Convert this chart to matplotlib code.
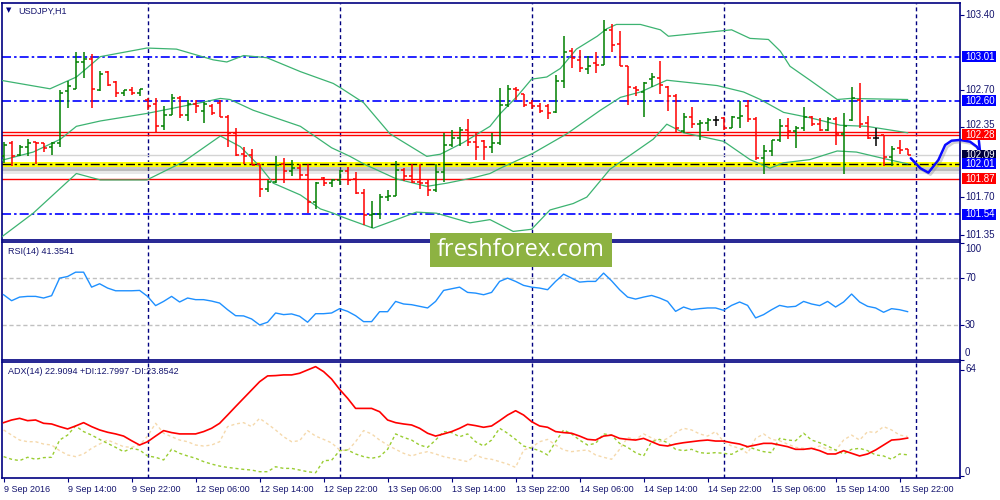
import numpy as np
import matplotlib.pyplot as plt
import matplotlib.patheffects as pe
import matplotlib.transforms as mtransforms
from matplotlib.patches import Rectangle

plt.rcParams['font.family'] = ['Liberation Sans', 'DejaVu Sans']
plt.rcParams['lines.scale_dashes'] = False

# USDJPY H1, bars from 9 Sep 06:00 to 15 Sep 23:00
opens = [102.08, 102.20, 102.09, 102.17, 102.21, 102.20, 102.17, 102.20, 102.69, 102.71,
         102.96, 102.99, 102.70, 102.87, 102.77, 102.67, 102.70, 102.67, 102.61, 102.57,
         102.36, 102.47, 102.62, 102.47, 102.57, 102.50, 102.55, 102.58, 102.45, 102.30,
         102.10, 102.09, 102.01, 101.78, 101.84, 102.01, 101.94, 101.97, 101.91, 101.65,
         101.88, 101.83, 101.86, 101.94, 101.87, 101.74, 101.53, 101.54, 101.70, 101.71,
         101.95, 101.90, 101.84, 101.83, 101.77, 101.93, 102.19, 102.25, 102.33, 102.21,
         102.22, 102.17, 102.20, 102.56, 102.71, 102.66, 102.58, 102.55, 102.55, 102.49,
         102.78, 103.06, 102.98, 102.89, 102.95, 102.93, 103.26, 103.13, 102.92, 102.72,
         102.68, 102.80, 102.81, 102.73, 102.64, 102.32, 102.45, 102.38, 102.39, 102.42,
         102.44, 102.34, 102.44, 102.55, 102.43, 102.06, 102.13, 102.23, 102.36, 102.32,
         102.34, 102.45, 102.38, 102.33, 102.43, 102.29, 102.42, 102.61, 102.39, 102.25,
         102.28, 102.07, 102.16, 102.15]
highs = [102.21, 102.22, 102.19, 102.24, 102.21, 102.20, 102.21, 102.70, 102.78, 103.05,
         103.05, 103.03, 102.88, 102.88, 102.78, 102.70, 102.73, 102.71, 102.62, 102.62,
         102.55, 102.66, 102.64, 102.61, 102.61, 102.59, 102.57, 102.61, 102.47, 102.34,
         102.17, 102.15, 102.01, 101.86, 102.08, 102.06, 102.05, 102.01, 102.01, 101.84,
         101.89, 101.87, 101.95, 101.98, 101.93, 101.78, 101.66, 101.73, 101.77, 102.04,
         101.97, 102.01, 102.01, 101.87, 102.01, 102.30, 102.33, 102.35, 102.43, 102.31,
         102.23, 102.30, 102.72, 102.75, 102.73, 102.66, 102.61, 102.58, 102.57, 102.84,
         103.20, 103.09, 103.07, 103.02, 103.05, 103.35, 103.31, 103.25, 102.92, 102.74,
         102.77, 102.86, 102.97, 102.74, 102.66, 102.48, 102.54, 102.42, 102.44, 102.46,
         102.45, 102.46, 102.60, 102.61, 102.45, 102.19, 102.23, 102.43, 102.44, 102.36,
         102.54, 102.46, 102.44, 102.45, 102.45, 102.48, 102.73, 102.76, 102.46, 102.34,
         102.28, 102.18, 102.23, 102.15]
lows = [102.02, 101.99, 102.08, 102.08, 102.01, 102.12, 102.09, 102.17, 102.53, 102.71,
        102.81, 102.53, 102.69, 102.74, 102.63, 102.64, 102.65, 102.64, 102.51, 102.31,
        102.33, 102.47, 102.44, 102.41, 102.48, 102.39, 102.47, 102.45, 102.17, 102.08,
        102.01, 102.00, 101.70, 101.75, 101.83, 101.83, 101.90, 101.86, 101.55, 101.59,
        101.80, 101.79, 101.81, 101.81, 101.73, 101.44, 101.41, 101.50, 101.66, 101.71,
        101.85, 101.83, 101.78, 101.71, 101.75, 101.84, 102.17, 102.18, 102.18, 102.05,
        102.05, 102.11, 102.19, 102.54, 102.61, 102.54, 102.52, 102.48, 102.43, 102.48,
        102.72, 102.90, 102.87, 102.85, 102.86, 102.93, 103.05, 102.92, 102.56, 102.64,
        102.45, 102.73, 102.66, 102.50, 102.30, 102.30, 102.34, 102.23, 102.32, 102.36,
        102.33, 102.34, 102.34, 102.40, 102.05, 101.92, 102.08, 102.21, 102.24, 102.16,
        102.32, 102.36, 102.32, 102.32, 102.19, 101.92, 102.41, 102.34, 102.24, 102.18,
        101.99, 101.99, 102.10, 102.09]
closes = [102.19, 102.08, 102.17, 102.20, 102.20, 102.16, 102.20, 102.67, 102.74, 102.96,
          102.99, 102.71, 102.85, 102.75, 102.67, 102.70, 102.67, 102.71, 102.55, 102.36,
          102.47, 102.62, 102.47, 102.57, 102.55, 102.57, 102.48, 102.45, 102.30, 102.09,
          102.08, 102.00, 101.78, 101.84, 102.00, 101.94, 101.97, 101.91, 101.65, 101.83,
          101.83, 101.86, 101.94, 101.86, 101.74, 101.53, 101.54, 101.70, 101.71, 101.95,
          101.90, 101.84, 101.83, 101.77, 101.93, 102.19, 102.25, 102.33, 102.21, 102.17,
          102.17, 102.20, 102.56, 102.71, 102.70, 102.56, 102.55, 102.50, 102.48, 102.78,
          103.05, 103.00, 102.90, 102.92, 102.93, 103.26, 103.12, 102.92, 102.73, 102.70,
          102.76, 102.82, 102.75, 102.64, 102.34, 102.45, 102.38, 102.39, 102.42, 102.42,
          102.34, 102.45, 102.46, 102.43, 102.06, 102.13, 102.23, 102.36, 102.32, 102.34,
          102.45, 102.38, 102.33, 102.43, 102.29, 102.36, 102.62, 102.38, 102.25, 102.25,
          102.07, 102.15, 102.14, 102.09]

# Bollinger bands, read at a set of bar positions
upper_x = [-0.4, 5.8, 9.1, 12.1, 17.9, 21.6, 26.2, 27.9, 30.0, 32.9, 37.1, 41.2, 42.1, 45.0,
           48.3, 52.9, 54.6, 57.5, 60.8, 62.1, 64.2, 66.0, 67.9, 69.6, 71.6, 74.2, 75.4, 76.6,
           79.6, 82.1, 83.1, 87.1, 91.0, 93.3, 95.6, 97.1, 98.3, 100.8, 102.5, 104.2, 105.8, 113.0]
upper_y = [102.79, 102.71, 102.82, 103.01, 103.09, 103.08, 102.98, 102.96, 103.02, 103.00,
           102.87, 102.76, 102.72, 102.58, 102.29, 102.08, 102.10, 102.21, 102.36, 102.48,
           102.64, 102.80, 102.82, 102.90, 103.08, 103.20, 103.27, 103.31, 103.31, 103.26,
           103.20, 103.23, 103.26, 103.18, 103.17, 103.06, 102.92, 102.79, 102.70, 102.61,
           102.62, 102.61]
mid_x = [-0.4, 3.7, 7.1, 9.1, 12.1, 17.9, 24.6, 27.1, 28.3, 31.2, 37.1, 41.0, 43.3, 45.0,
         49.1, 52.9, 55.4, 58.7, 60.8, 62.1, 66.2, 70.4, 74.6, 77.1, 79.6, 82.9, 89.2, 92.5,
         94.6, 97.5, 100.8, 104.6, 107.9, 113.0]
mid_y = [102.04, 102.12, 102.24, 102.36, 102.41, 102.48, 102.58, 102.62, 102.61, 102.51,
         102.36, 102.16, 102.08, 102.01, 101.87, 101.80, 101.83, 101.88, 101.92, 101.97,
         102.11, 102.29, 102.51, 102.63, 102.68, 102.79, 102.74, 102.68, 102.61, 102.49,
         102.44, 102.37, 102.36, 102.30]
low_x = [-0.4, 3.7, 9.1, 12.1, 17.9, 22.5, 27.1, 29.6, 32.1, 33.7, 37.1, 39.6, 41.2, 42.5,
         46.2, 49.1, 51.6, 54.1, 58.3, 60.8, 63.7, 66.0, 68.3, 71.2, 72.9, 75.8, 78.7, 81.2,
         82.9, 85.0, 90.0, 93.3, 95.8, 97.5, 100.8, 104.2, 106.6, 110.0, 113.0]
low_y = [101.32, 101.55, 101.92, 101.86, 101.86, 102.03, 102.27, 102.17, 101.98, 101.83,
         101.72, 101.59, 101.55, 101.51, 101.41, 101.49, 101.56, 101.55, 101.46, 101.49,
         101.38, 101.40, 101.58, 101.64, 101.70, 101.96, 102.11, 102.24, 102.38, 102.30,
         102.22, 102.05, 101.97, 102.02, 102.05, 102.13, 102.12, 102.06, 102.01]

rsi = [55.8, 50.7, 53.8, 54.4, 54.4, 53.0, 55.0, 70.0, 71.4, 75.1,
       75.1, 62.3, 65.2, 61.5, 59.2, 59.2, 59.2, 59.5, 54.4, 46.5,
       50.1, 54.4, 49.6, 53.0, 51.6, 51.6, 50.4, 48.7, 43.0, 37.9,
       37.7, 35.1, 30.0, 32.3, 40.2, 38.8, 39.4, 37.4, 32.3, 39.6,
       39.6, 40.2, 43.9, 41.6, 37.9, 32.8, 32.8, 41.3, 41.3, 50.1,
       47.9, 47.3, 45.9, 44.5, 50.1, 59.5, 60.9, 62.3, 57.8, 57.2,
       55.8, 57.8, 67.2, 70.0, 67.2, 63.8, 62.3, 61.5, 60.1, 67.2,
       73.4, 70.0, 66.6, 67.2, 67.2, 74.3, 67.7, 60.1, 53.8, 52.1,
       53.8, 55.2, 53.0, 50.1, 41.6, 45.3, 43.0, 43.9, 44.5, 44.5,
       42.5, 46.7, 49.6, 46.7, 36.0, 38.8, 43.0, 46.7, 45.3, 45.9,
       50.1, 47.9, 46.5, 50.1, 45.3, 49.6, 56.4, 49.6, 45.9, 44.5,
       40.8, 43.9, 43.0, 41.35]
adx = [32.2, 33.8, 34.8, 33.4, 33.8, 31.8, 31.4, 29.8, 28.4, 30.2,
       32.2, 29.8, 27.8, 26.4, 25.4, 24.1, 21.3, 18.7, 20.7, 24.1,
       27.4, 26.2, 25.4, 25.4, 25.4, 26.8, 28.8, 31.8, 36.8, 41.9,
       46.9, 51.9, 56.9, 60.4, 60.6, 61.0, 61.0, 62.0, 64.0, 66.0,
       63.0, 58.5, 52.3, 46.9, 40.8, 40.8, 40.8, 38.8, 33.8, 32.2,
       31.4, 30.8, 28.8, 25.8, 24.1, 25.4, 26.8, 28.8, 31.2, 30.4,
       29.4, 30.2, 33.4, 36.8, 39.4, 36.8, 32.8, 30.2, 29.4, 26.8,
       26.2, 25.8, 24.1, 22.1, 21.7, 24.1, 24.7, 22.7, 22.1, 21.7,
       22.7, 20.7, 18.7, 18.1, 19.3, 20.1, 20.7, 21.3, 21.7, 21.1,
       21.1, 20.1, 19.3, 17.7, 18.7, 19.7, 19.7, 18.7, 17.7, 16.1,
       16.1, 16.7, 15.3, 13.3, 13.3, 15.3, 13.7, 12.1, 13.3, 15.7,
       18.7, 21.7, 22.1, 22.9]
di_plus = [11.7, 10.1, 9.3, 11.3, 10.1, 11.1, 11.3, 21.7, 24.7, 30.2,
           26.8, 24.7, 22.1, 19.7, 17.3, 14.7, 16.7, 15.7, 12.1, 11.3,
           9.7, 16.1, 13.7, 12.1, 10.7, 8.7, 7.2, 6.0, 5.2, 4.6,
           4.0, 3.6, 2.6, 2.6, 5.6, 4.6, 4.6, 3.6, 2.6, 2.0,
           9.3, 9.5, 15.3, 15.7, 13.3, 11.7, 10.7, 11.7, 16.1, 25.4,
           23.3, 21.7, 18.7, 17.3, 21.7, 26.8, 26.2, 23.7, 25.4, 20.7,
           18.1, 21.7, 28.8, 25.8, 22.1, 18.1, 16.7, 15.3, 12.7, 20.7,
           27.8, 25.4, 21.7, 18.7, 19.7, 25.4, 24.7, 19.7, 17.3, 14.1,
           12.1, 20.7, 22.1, 20.1, 16.1, 15.3, 16.1, 14.1, 13.7, 14.1,
           13.7, 13.1, 15.7, 17.7, 16.1, 14.7, 14.1, 22.7, 21.7, 21.3,
           25.8, 21.7, 20.1, 18.1, 15.7, 13.3, 16.1, 16.7, 15.3, 12.7,
           12.1, 10.1, 13.3, 12.8]
di_minus = [27.8, 24.7, 21.7, 20.7, 20.7, 19.3, 18.7, 15.3, 12.7, 11.7,
            13.3, 16.7, 19.3, 21.7, 19.7, 17.7, 17.3, 18.7, 24.1, 31.8,
            25.8, 23.7, 21.7, 20.7, 18.7, 18.1, 18.7, 20.7, 29.8, 31.4,
            32.2, 29.8, 34.8, 31.4, 27.8, 23.7, 20.7, 21.3, 27.4, 24.1,
            22.1, 20.0, 15.7, 15.3, 20.7, 27.4, 25.4, 21.7, 18.7, 16.1,
            13.7, 12.1, 13.7, 14.7, 13.3, 11.7, 10.7, 9.7, 8.7, 12.7,
            10.7, 10.1, 8.7, 7.2, 5.2, 15.7, 17.3, 20.7, 22.1, 18.7,
            15.7, 14.7, 15.3, 15.7, 12.7, 11.3, 10.1, 16.1, 23.3, 22.1,
            25.4, 23.0, 20.7, 22.7, 26.2, 28.8, 27.8, 25.4, 24.1, 26.8,
            20.7, 18.1, 16.7, 13.7, 22.7, 25.4, 22.1, 21.3, 19.3, 17.3,
            16.7, 16.1, 18.1, 16.1, 15.3, 21.7, 24.7, 21.7, 26.8, 26.2,
            29.8, 27.8, 24.7, 23.85]

date_labels = ['9 Sep 2016', '9 Sep 14:00', '9 Sep 22:00', '12 Sep 06:00', '12 Sep 14:00',
               '12 Sep 22:00', '13 Sep 06:00', '13 Sep 14:00', '13 Sep 22:00', '14 Sep 06:00',
               '14 Sep 14:00', '14 Sep 22:00', '15 Sep 06:00', '15 Sep 14:00', '15 Sep 22:00']
day_starts = [18, 42, 66, 90, 114]

blue_levels = [103.01, 102.60, 101.54]
red_levels = [102.305, 102.277, 101.87]
support_level = 102.01
bid = 102.09
plain_prices = [103.40, 102.70, 102.35, 101.70, 101.35]
boxed_prices = [(103.01, '#0000ff'), (102.60, '#0000ff'), (102.28, '#ff0000'),
                (102.09, '#00003c'), (102.01, '#0000ff'), (101.87, '#ff0000'),
                (101.54, '#0000ff')]

# hand-drawn forecast curve (bar index, price)
sketch_x = [113.4, 114.6, 115.6, 116.85, 117.7, 118.5, 119.56, 120.8, 121.65, 122.06]
sketch_y = [102.062, 101.969, 101.928, 102.046, 102.186, 102.226, 102.233, 102.217, 102.170, 102.121]

W, H = 1000, 500
navy = '#000080'
txt = '#14146e'

fig = plt.figure(figsize=(10, 5), dpi=100)
fig.patch.set_facecolor('white')


def panel(top, bottom):
    a = fig.add_axes([2 / W, 1 - bottom / H, 958 / W, (bottom - top) / H])
    for s in a.spines.values():
        s.set_color(navy)
        s.set_linewidth(1.2)
    a.set_xlim(-0.2, 119.55)
    a.yaxis.tick_right()
    a.tick_params(axis='y', direction='out', length=3, width=0.8, colors=navy, labelright=False)
    a.set_xticks([])
    for d in day_starts:
        a.axvline(d, color=navy, lw=1, ls=(0, (2.8, 2.2)), zorder=1)
    return a


ax = panel(3, 240)
ax_rsi = panel(242, 360)
ax_adx = panel(362, 478)
ax.set_ylim(101.30, 103.51)
ax_rsi.set_ylim(0.5, 100.9)
ax_adx.set_ylim(-1.2, 68.8)

# --- price panel ---
x = np.arange(len(opens))
o, h, l, c = map(np.array, (opens, highs, lows, closes))
cols = np.where(c > o, '#008000', np.where(c < o, '#ff0000', '#000000'))
ax.vlines(x, l, h, colors=cols, lw=1.1, zorder=4)
ax.hlines(o, x - 0.38, x, colors=cols, lw=1.1, zorder=4)
ax.hlines(c, x, x + 0.38, colors=cols, lw=1.1, zorder=4)

for bx, by in ((upper_x, upper_y), (mid_x, mid_y), (low_x, low_y)):
    ax.plot(bx, by, color='#3cb371', lw=0.9, zorder=3)

dashdot = (0, (6.5, 2.2, 1.8, 2.2))
for lv in blue_levels:
    ax.axhline(lv, color='#0000ff', lw=1.2, ls=dashdot, zorder=2)
for lv in red_levels:
    ax.axhline(lv, color='#ff0000', lw=1.0, zorder=2)
ax.axhline(bid, color='#d4d4d4', lw=1, zorder=2)
ax.axhline(support_level, color='#ffff00', lw=3.6, zorder=2.5,
           path_effects=[pe.SimpleLineShadow(offset=(0, -3), shadow_color='#606060', alpha=0.35),
                         pe.SimpleLineShadow(offset=(0, -5), shadow_color='#909090', alpha=0.2),
                         pe.Normal()])
ax.axhline(support_level, color='#000000', lw=1, ls=dashdot, zorder=2.6)

ax.set_yticks(plain_prices)
trans = mtransforms.blended_transform_factory(fig.transFigure, ax.transData)
px_per_unit = 237 / (103.51 - 101.30)
for p in plain_prices:
    # the 102.35 label sits partly under the 102.28 box, as in MT4
    shift = 2.5 / px_per_unit if p == 102.35 else 0
    ax.text(965 / W, p + shift, f'{p:.2f}', transform=trans, fontsize=7, color=txt,
            va='center', ha='left', clip_on=False)
for p, col in boxed_prices:
    hgt = 11 / px_per_unit
    fig.add_artist(Rectangle((962 / W, p - hgt / 2), 34 / W, hgt, transform=trans,
                             facecolor=col, edgecolor='none', zorder=5))
    fig.text(965 / W, p, f'{p:.2f}', transform=trans, fontsize=7, color='white',
             va='center', ha='left', zorder=6)

ax.plot(sketch_x, sketch_y, color='#0a0aff', lw=1.8, clip_on=False, zorder=10,
        solid_capstyle='round', solid_joinstyle='round',
        path_effects=[pe.SimpleLineShadow(offset=(1.5, -1.5), shadow_color='#808080', alpha=0.35),
                      pe.Normal()])
ax.plot([sketch_x[-1] - 0.15, sketch_x[-1]], [102.225, sketch_y[-1]], color='#0a0aff', lw=1.8,
        clip_on=False, zorder=10, solid_capstyle='round')

fig.text(9 / W, 1 - 10.5 / H, '\u25bc', fontsize=5, color=navy, ha='center', va='center',
         family='DejaVu Sans')
fig.text(18 / W, 1 - 11 / H, 'USDJPY,H1', fontsize=6.5, color=txt, va='center', ha='left')

# --- RSI panel ---
ax_rsi.plot(x, rsi, color='#1e90ff', lw=1, zorder=3)
for lv in (70, 30):
    ax_rsi.axhline(lv, color='#c0c0c0', lw=1, ls=(0, (3, 2)), zorder=2)
ax_rsi.set_yticks([100, 70, 30, 0])
for lbl, py in (('100', 249), ('70', 278), ('30', 325), ('0', 353)):
    fig.text(965 / W, 1 - py / H, lbl, fontsize=7, color=txt, va='center', ha='left')
fig.text(8 / W, 1 - 251.5 / H, 'RSI(14) 41.3541', fontsize=6.5, color=txt, va='center', ha='left')

# --- ADX panel ---
ax_adx.plot(x, di_minus, color='#f5d9ac', lw=1, ls=(0, (2.2, 2)), zorder=2)
ax_adx.plot(x, di_plus, color='#9acd32', lw=1, ls=(0, (2.2, 2)), zorder=2)
ax_adx.plot(x, adx, color='#ff0000', lw=1.2, zorder=3)
ax_adx.set_yticks([64, 0])
for lbl, py in (('64', 369), ('0', 472)):
    fig.text(965 / W, 1 - py / H, lbl, fontsize=7, color=txt, va='center', ha='left')
fig.text(8 / W, 1 - 372 / H, 'ADX(14) 22.9094 +DI:12.7997 -DI:23.8542', fontsize=6.5,
         color=txt, va='center', ha='left')

ax_adx.set_xticks(np.arange(0, len(opens), 8))
ax_adx.set_xticklabels(date_labels, ha='left', fontsize=6.5, color=txt)
ax_adx.tick_params(axis='x', direction='out', length=3, width=0.8, pad=2, colors=navy,
                   labelcolor=txt)

# --- watermark ---
fig.add_artist(Rectangle((430 / W, 1 - 266.7 / H), 181.7 / W, 34 / H, transform=fig.transFigure,
                         facecolor='#8db242', edgecolor='none', zorder=20))
fig.text(520.5 / W, 1 - 250 / H, 'freshforex.com', fontsize=17, color='white',
         family=['Open Sans', 'DejaVu Sans'], ha='center', va='center', zorder=21)

fig.savefig('out.png', dpi=100, facecolor='white')
